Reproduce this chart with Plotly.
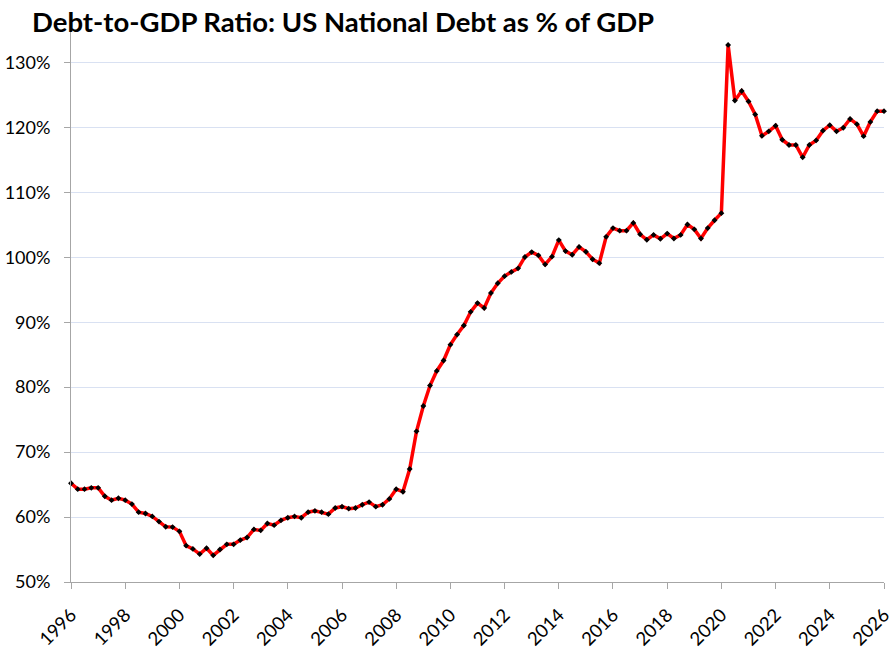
import pandas as pd
import plotly.graph_objects as go

# Quarterly observations, 1996 Q1 through 2026 Q1
quarters = pd.date_range("1996-01-01", periods=121, freq="QS")
debt_to_gdp = [
    65.2, 64.3, 64.3, 64.5, 64.5, 63.2, 62.6, 62.9, 62.6, 62.0,
    60.75, 60.55, 60.1, 59.3, 58.5, 58.45, 57.8, 55.6, 55.1, 54.3,
    55.2, 54.1, 55.0, 55.8, 55.8, 56.45, 56.85, 58.1, 57.95, 59.0,
    58.75, 59.5, 59.9, 60.1, 59.9, 60.75, 60.95, 60.75, 60.45, 61.4,
    61.6, 61.3, 61.4, 61.9, 62.3, 61.6, 61.9, 62.8, 64.3, 63.9,
    67.4, 73.2, 77.1, 80.25, 82.5, 84.1, 86.55, 88.1, 89.5, 91.6,
    92.95, 92.2, 94.5, 96.0, 97.1, 97.75, 98.3, 100.05, 100.8, 100.3,
    98.9, 100.1, 102.65, 100.95, 100.4, 101.6, 100.85, 99.7, 99.1, 103.15,
    104.5, 104.1, 104.1, 105.3, 103.55, 102.7, 103.45, 102.85, 103.65, 102.9,
    103.45, 105.05, 104.3, 102.9, 104.5, 105.7, 106.8, 132.7, 124.15, 125.6,
    124.0, 122.0, 118.7, 119.4, 120.25, 118.1, 117.3, 117.3, 115.4, 117.3,
    118.0, 119.5, 120.35, 119.4, 119.95, 121.3, 120.5, 118.65, 120.85, 122.5,
    122.5,
]
x_tick_years = list(range(1996, 2027, 2))
y_tick_vals = [50, 60, 70, 80, 90, 100, 110, 120, 130]
title_text = "Debt-to-GDP Ratio: US National Debt as % of GDP"

fig = go.Figure()
fig.add_trace(go.Scatter(
    x=quarters, y=debt_to_gdp, mode="lines+markers",
    line=dict(color="#FF0000", width=3.5),
    marker=dict(color="black", size=4.5, symbol="diamond"),
    cliponaxis=False, showlegend=False,
))

fig.update_layout(
    width=896, height=653,
    margin=dict(l=71, r=12, t=30, b=71),
    paper_bgcolor="white", plot_bgcolor="white",
    font=dict(family="Lato", size=18, color="black"),
    title=dict(text=f"<b>{title_text}</b>", x=32/896, xanchor="left",
               y=1 - 22/653, yanchor="middle", xref="container", yref="container",
               font=dict(family="Lato", size=27.5, color="black")),
)
fig.update_xaxes(
    type="date", range=["1996-01-01", "2026-01-01"],
    tickvals=[f"{y}-01-01" for y in x_tick_years],
    ticktext=[str(y) for y in x_tick_years],
    tickangle=-45, ticks="outside", ticklen=6, tickcolor="#A6A6A6",
    tickfont=dict(size=18.5),
    showline=True, linecolor="#A6A6A6", linewidth=1,
    showgrid=False, zeroline=False, ticklabelstandoff=8, automargin=False,
)
fig.update_yaxes(
    range=[50, 135], tickvals=y_tick_vals,
    ticktext=[f"{v}%" for v in y_tick_vals],
    ticks="outside", ticklen=6, tickcolor="#A6A6A6",
    showline=True, linecolor="#A6A6A6", linewidth=1,
    showgrid=True, gridcolor="#D9E1F2", gridwidth=1,
    zeroline=False, ticklabelstandoff=10, automargin=False,
)

fig.write_html("out.html")
